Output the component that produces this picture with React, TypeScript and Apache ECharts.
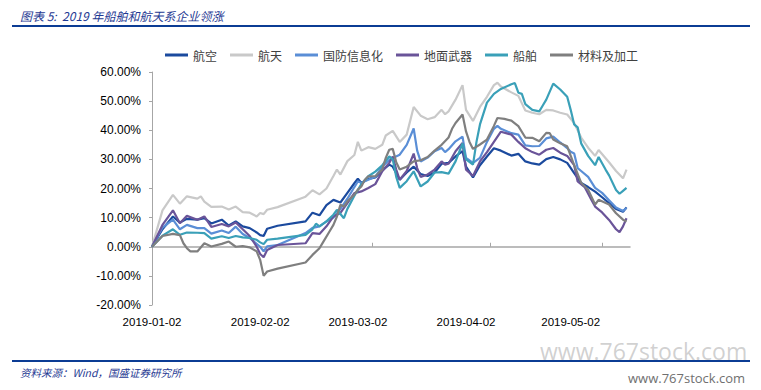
import React, { useEffect, useRef } from 'react';
import * as echarts from 'echarts';

// x axis: one category per calendar day, 2019-01-02 .. 2019-05-19
const startDate = Date.UTC(2019, 0, 2);
const dayCount = 138;
const categories: string[] = Array.from({ length: dayCount }, (_, i) =>
  new Date(startDate + i * 86400000).toISOString().slice(0, 10)
);
const tickDays = [63, 97, 129];

const seriesNames = ['航空', '航天', '国防信息化', '地面武器', '船舶', '材料及加工'];
const seriesColors = ['#1B4A9E', '#C9C9C9', '#5A8ED6', '#6A5499', '#3AA0B8', '#7F7F7F'];

// [day offset from 2019-01-02, cumulative change %]
const hangkong: [number, number][] = [
  [0, 0], [3, 6.0], [6, 10.4], [8, 8.3], [10, 9.6], [13, 9.3], [15, 9.8], [17, 8.0], [20, 9.3], [22, 7.3],
  [24, 8.7], [26, 7.0], [28, 6.4], [30, 4.9], [31, 4.0], [32, 3.7], [33, 6.2], [36, 7.2], [44, 8.7], [46, 11.7],
  [48, 10.8], [50, 14.3], [52, 16.1], [54, 15.2], [56, 18.5], [58, 21.8], [59, 23.4], [60, 21.9], [62, 23.3], [64, 23.8],
  [66, 26.2], [68, 28.2], [69, 27.5], [71, 23.0], [73, 25.5], [75, 27.5], [77, 25.0], [79, 24.3], [81, 25.5], [83, 28.5],
  [85, 28.8], [87, 31.0], [89, 32.8], [90, 27.5], [92, 23.8], [94, 28.0], [96, 31.0], [98, 33.8], [100, 33.0], [103, 31.3],
  [105, 31.9], [107, 29.3], [109, 28.6], [111, 28.2], [113, 30.1], [115, 30.8], [117, 30.0], [119, 28.8], [121, 25.3], [123, 21.9],
  [125, 20.5], [127, 18.9], [129, 17.0], [131, 15.0], [133, 13.0], [135, 12.0], [136, 13.5],
];
const hangtian: [number, number][] = [
  [0, 0], [3, 12.5], [6, 17.8], [8, 14.8], [10, 17.3], [13, 16.5], [14, 17.3], [15, 15.5], [17, 13.7], [20, 13.8],
  [22, 12.8], [24, 13.8], [26, 11.9], [28, 11.7], [30, 10.4], [31, 11.6], [32, 11.2], [33, 12.7], [36, 13.6], [44, 17.2],
  [46, 19.4], [48, 18.0], [50, 20.0], [52, 24.3], [53, 26.5], [54, 24.8], [56, 29.4], [58, 31.5], [59, 36.0], [60, 33.0],
  [62, 34.2], [64, 33.6], [66, 35.0], [67, 38.2], [69, 39.8], [71, 36.0], [73, 38.5], [75, 48.0], [77, 45.0], [79, 43.8],
  [81, 44.5], [83, 47.0], [84, 45.5], [85, 46.5], [87, 50.5], [89, 55.5], [90, 47.0], [92, 43.2], [94, 48.0], [96, 51.5],
  [98, 55.5], [99, 56.3], [100, 55.0], [103, 53.0], [105, 51.8], [107, 46.8], [109, 46.0], [111, 45.5], [113, 47.0], [115, 46.8],
  [117, 46.0], [119, 45.4], [121, 42.5], [123, 37.5], [125, 34.0], [127, 31.2], [128, 33.2], [131, 29.0], [133, 26.0], [135, 23.5],
  [136, 26.5],
];
const guofang: [number, number][] = [
  [0, 0], [3, 6.6], [6, 9.3], [8, 6.0], [10, 7.5], [13, 6.4], [15, 6.4], [17, 4.5], [20, 5.6], [22, 4.7],
  [24, 6.9], [26, 4.4], [28, 3.0], [30, 1.0], [31, 0.0], [32, -1.6], [33, 0.1], [36, 0.6], [44, 4.7], [46, 6.5],
  [48, 7.0], [50, 8.7], [52, 10.0], [54, 13.0], [56, 16.5], [58, 20.5], [59, 22.4], [60, 22.0], [62, 23.0], [64, 24.0],
  [66, 27.5], [68, 29.8], [69, 30.5], [71, 31.6], [73, 35.0], [75, 40.6], [76, 33.0], [77, 29.3], [79, 30.6], [81, 32.8],
  [83, 33.9], [84, 32.5], [85, 33.5], [87, 36.2], [89, 37.8], [90, 30.5], [92, 28.8], [94, 30.5], [96, 36.0], [98, 40.5],
  [99, 41.5], [100, 40.5], [103, 39.0], [105, 38.5], [107, 34.8], [109, 34.5], [111, 34.6], [113, 37.2], [115, 37.8], [117, 35.8],
  [119, 33.9], [120, 32.6], [121, 32.0], [122, 27.0], [123, 26.0], [125, 24.0], [127, 20.2], [129, 18.5], [131, 16.0], [133, 13.5],
  [135, 12.3], [136, 13.3],
];
const dimian: [number, number][] = [
  [0, 0], [3, 7.5], [6, 12.5], [8, 8.1], [10, 10.6], [13, 9.3], [15, 10.4], [17, 6.8], [20, 7.8], [22, 7.0],
  [24, 8.3], [26, 6.0], [28, 3.7], [30, 0.0], [31, -2.5], [32, -3.6], [33, -1.1], [36, 0.6], [44, 1.2], [46, 4.7],
  [48, 4.4], [50, 7.0], [52, 10.4], [54, 11.6], [56, 15.0], [58, 18.4], [60, 19.0], [62, 20.2], [64, 21.5], [66, 25.9],
  [68, 28.8], [69, 31.0], [70, 26.5], [71, 23.0], [73, 26.0], [75, 32.0], [76, 27.0], [77, 24.0], [79, 24.8], [81, 26.5],
  [83, 29.3], [84, 28.2], [85, 28.5], [87, 32.8], [89, 35.6], [90, 26.5], [92, 24.3], [94, 29.3], [96, 32.5], [98, 36.0],
  [100, 39.5], [103, 38.5], [105, 36.0], [107, 33.8], [109, 32.5], [111, 31.6], [113, 33.3], [115, 33.9], [117, 32.3], [119, 31.2],
  [121, 28.0], [122, 22.4], [124, 20.5], [126, 16.0], [127, 13.8], [129, 11.8], [131, 9.2], [133, 6.0], [134, 5.0], [135, 7.0],
  [136, 9.8],
];
const chuanbo: [number, number][] = [
  [0, 0], [3, 3.8], [6, 6.0], [8, 4.1], [10, 4.9], [13, 4.8], [15, 4.7], [17, 2.8], [20, 3.6], [22, 3.0],
  [24, 3.7], [26, 3.2], [28, 3.0], [30, 2.4], [31, 1.5], [32, 0.9], [33, 2.4], [36, 2.8], [44, 4.1], [46, 6.0],
  [47, 7.9], [48, 7.0], [50, 8.7], [52, 11.0], [53, 12.7], [55, 9.8], [56, 13.0], [58, 17.5], [60, 21.5], [62, 24.2],
  [64, 25.8], [66, 28.0], [68, 31.0], [69, 30.0], [70, 24.0], [71, 20.2], [73, 22.5], [75, 25.9], [77, 20.7], [79, 22.4],
  [81, 25.5], [83, 25.6], [85, 25.1], [87, 29.3], [89, 35.5], [90, 30.0], [92, 28.2], [93, 36.0], [94, 42.0], [96, 49.5],
  [98, 52.5], [100, 54.2], [103, 55.8], [104, 56.2], [105, 52.9], [106, 52.5], [107, 49.0], [109, 47.0], [111, 46.5], [112, 48.5],
  [113, 50.5], [115, 56.0], [117, 54.0], [119, 51.5], [120, 47.0], [121, 42.0], [122, 41.0], [123, 35.5], [125, 31.2], [127, 28.0],
  [128, 30.8], [130, 26.5], [131, 24.5], [133, 19.5], [134, 18.2], [135, 19.2], [136, 20.2],
];
const cailiao: [number, number][] = [
  [0, 0], [3, 3.7], [6, 4.4], [8, 4.0], [9, 1.2], [10, -0.5], [11, -1.6], [13, -1.6], [15, 1.2], [17, 0.1],
  [20, 1.0], [22, 1.8], [24, 0.0], [26, 0.2], [28, -0.2], [30, -1.6], [31, -4.5], [32, -10.0], [33, -8.5], [36, -7.5],
  [44, -5.4], [46, -2.8], [48, -0.5], [49, 1.5], [51, 5.5], [52, 7.5], [53, 10.4], [54, 14.4], [55, 13.8], [56, 15.6],
  [58, 17.9], [59, 19.6], [60, 20.7], [61, 23.0], [62, 24.2], [64, 24.2], [66, 26.5], [67, 30.5], [68, 33.3], [69, 33.6],
  [70, 29.0], [71, 26.5], [73, 27.5], [75, 29.3], [77, 29.7], [79, 30.8], [81, 33.0], [83, 35.0], [85, 37.5], [86, 40.5],
  [87, 42.5], [89, 45.4], [90, 39.6], [91, 36.0], [92, 33.6], [94, 35.1], [96, 36.8], [98, 41.5], [99, 44.2], [101, 43.9],
  [103, 43.3], [105, 41.4], [107, 37.5], [109, 37.4], [111, 36.2], [113, 39.1], [114, 39.0], [115, 36.8], [117, 35.5], [119, 34.5],
  [121, 28.0], [123, 22.0], [125, 19.6], [127, 14.5], [128, 16.1], [131, 14.5], [133, 11.5], [135, 9.3], [136, 8.7],
];
const seriesData = [hangkong, hangtian, guofang, dimian, chuanbo, cailiao];

const titleText = '图表 5:  2019 年船舶和航天系企业领涨';
const sourceText = '资料来源：Wind，国盛证券研究所';
const watermark = 'www.767stock.com';

const yMin = -20;
const yMax = 60;
const yStep = 10;

const FONT = '"Liberation Sans", Arial, "Noto Sans CJK SC", sans-serif';
const CJK = '"Noto Sans CJK SC", "Liberation Sans", sans-serif';

export default function App() {
  const ref = useRef<HTMLDivElement>(null);
  useEffect(() => {
    if (!ref.current) return;
    const chart = echarts.init(ref.current, undefined, { renderer: 'svg' });
    const option: any = {
      animation: false,
      backgroundColor: '#ffffff',
      grid: { left: 152, right: 131, top: 72, bottom: 85, containLabel: false },
      legend: {
        data: seriesNames,
        left: 160,
        top: 44,
        icon: 'rect',
        itemWidth: 23,
        itemHeight: 3,
        itemGap: 13,
        textStyle: { fontSize: 12, color: '#404040', fontFamily: CJK },
      },
      xAxis: [
        {
          type: 'category',
          data: categories,
          boundaryGap: false,
          position: 'bottom',
          axisLine: { show: false, onZero: false },
          axisTick: { show: false },
          splitLine: { show: false },
          axisLabel: {
            interval: (_i: number, v: string) => v.endsWith('-02'),
            margin: 11,
            fontSize: 11.5,
            color: '#000',
            fontFamily: FONT,
          },
        },
        {
          type: 'category',
          data: categories,
          boundaryGap: false,
          position: 'bottom',
          axisLine: { show: true, onZero: true, lineStyle: { color: '#A6A6A6', width: 1.5 } },
          axisTick: {
            show: true,
            inside: true,
            length: 4,
            interval: (i: number) => tickDays.includes(i),
            lineStyle: { color: '#A6A6A6' },
          },
          axisLabel: { show: false },
          splitLine: { show: false },
        },
      ],
      yAxis: {
        type: 'value',
        min: yMin,
        max: yMax,
        interval: yStep,
        axisLine: { show: true, lineStyle: { color: '#A6A6A6', width: 1 } },
        axisTick: { show: true, length: 3, lineStyle: { color: '#A6A6A6' } },
        splitLine: { show: false },
        axisLabel: {
          margin: 11,
          fontSize: 12,
          color: '#000',
          fontFamily: FONT,
          formatter: (v: number) => v.toFixed(2) + '%',
        },
      },
      series: seriesNames.map((name, i) => ({
        name,
        type: 'line',
        xAxisIndex: 0,
        data: seriesData[i],
        showSymbol: false,
        symbol: 'none',
        lineStyle: { width: 2.2, color: seriesColors[i] },
        itemStyle: { color: seriesColors[i] },
        z: 2 + i,
      })),
      graphic: [
        {
          type: 'text',
          left: 20,
          top: 9,
          style: { text: titleText, fontSize: 12, fontStyle: 'italic', fill: '#1F3A93', fontFamily: CJK },
        },
        {
          type: 'line',
          shape: { x1: 12, y1: 26, x2: 750, y2: 26 },
          style: { stroke: '#0B3C94', lineWidth: 2 },
        },
        {
          type: 'line',
          shape: { x1: 12, y1: 361, x2: 750, y2: 361 },
          style: { stroke: '#0B3C94', lineWidth: 2 },
        },
        {
          type: 'text',
          left: 20,
          top: 367,
          style: { text: sourceText, fontSize: 10.5, fontStyle: 'italic', fill: '#1F3A93', fontFamily: CJK },
        },
        {
          type: 'text',
          left: 540,
          top: 339,
          z: 100,
          style: { text: watermark, fontSize: 23, fill: 'rgba(170,170,170,0.55)', fontFamily: '"Open Sans", sans-serif' },
        },
        {
          type: 'text',
          left: 628,
          top: 371,
          z: 100,
          style: { text: watermark, fontSize: 13, fill: '#707070', fontFamily: '"Open Sans", sans-serif' },
        },
      ],
    };
    chart.setOption(option);
    return () => chart.dispose();
  }, []);
  return (
    <div
      ref={ref}
      style={{ position: 'fixed', left: 0, top: 0, width: 761, height: 390, background: '#fff' }}
    />
  );
}
